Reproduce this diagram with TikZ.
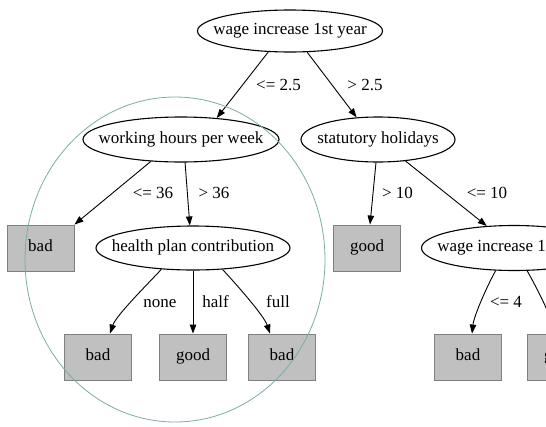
\documentclass[tikz,border=0pt]{standalone}
\usepackage{fontspec}
\setmainfont{Liberation Serif}
\usetikzlibrary{arrows.meta,shapes.geometric,calc}
\definecolor{boxfill}{RGB}{192,192,192}
\definecolor{boxline}{RGB}{128,128,128}
\definecolor{ringc}{RGB}{122,172,168}
\newcommand\elltext[1]{\makebox[0pt]{#1}}
\begin{document}
\begin{tikzpicture}[x=1pt,y=-1pt,
  every node/.style={font=\fontsize{17}{20}\selectfont},
  dec/.style={ellipse, draw, line width=1.1pt, inner sep=0pt, text height=11pt, text depth=3.5pt},
  leaf/.style={rectangle, draw=boxline, fill=boxfill, line width=0.9pt, minimum width=67pt, minimum height=46pt, inner sep=0pt, text height=11pt, text depth=3.5pt},
  lbl/.style={anchor=base, inner sep=0pt},
  edgeline/.style={line width=0.9pt, -{Triangle[length=9pt,width=6.5pt]}}
]
\useasboundingbox (0,0) rectangle (546,426);
\clip (0,0) rectangle (546,426);

\node[dec, minimum width=185pt, minimum height=42pt] (root) at (290,31) {\elltext{wage increase 1st year}};
\node[dec, minimum width=196pt, minimum height=45pt] (wh) at (181,139.5) {\elltext{working hours per week}};
\node[dec, minimum width=154pt, minimum height=45pt] (sh) at (378,139.5) {\elltext{statutory holidays}};
\node[leaf] (bad1) at (40.5,248) {bad};
\node[dec, minimum width=194pt, minimum height=44pt] (hp) at (193,248) {\elltext{health plan contribution}};
\node[leaf] (good1) at (367,248) {good};
\node[dec, minimum width=185pt, minimum height=45pt] (wi2) at (514,248) {\elltext{wage increase 1st year}};
\node[leaf] (bad2) at (98,357) {bad};
\node[leaf] (good2) at (193,357) {good};
\node[leaf] (bad3) at (282,357) {bad};
\node[leaf] (bad4) at (468,357) {bad};
\node[leaf] (good3) at (561,357) {good};

\draw[edgeline] (root.224) -- (wh.31);
\draw[edgeline] (root.309) -- (sh.134);
\draw[edgeline] (wh.216) -- (bad1.north east);
\draw[edgeline] (wh.280) -- (hp.98);
\draw[edgeline] (sh.265) -- ([xshift=3pt]good1.north);
\draw[edgeline] (sh.322) -- (wi2.141);
\draw[edgeline] (hp.214) .. controls +(-13,14) and +(6,-18) .. ([xshift=12pt]bad2.north);
\draw[edgeline] (hp.270) -- (good2.north);
\draw[edgeline] (hp.324) .. controls +(13,14) and +(-6,-18) .. ([xshift=-12pt]bad3.north);
\draw[edgeline] (wi2.231) .. controls +(-8,14) and +(2,-18) .. ([xshift=4pt]bad4.north);
\draw[edgeline] (wi2.300) .. controls +(8,14) and +(-2,-18) .. ([xshift=-8pt]good3.north);

\node[lbl] (l1) at (278.5,90) {<= 2.5};
\node[lbl] (l2) at (365,90) {> 2.5};
\node[lbl] (l3) at (153,198) {<= 36};
\node[lbl] (l4) at (214,198) {> 36};
\node[lbl] (l5) at (397.5,198) {> 10};
\node[lbl] (l6) at (487,198) {<= 10};
\node[lbl] (l7) at (160,307) {none};
\node[lbl] (l8) at (215.5,307) {half};
\node[lbl] (l9) at (278,307) {full};
\node[lbl] (l10) at (506,307) {<= 4};

\draw[ringc, line width=0.8pt] (175,259.5) ellipse [x radius=150, y radius=162.5];
\end{tikzpicture}
\end{document}
